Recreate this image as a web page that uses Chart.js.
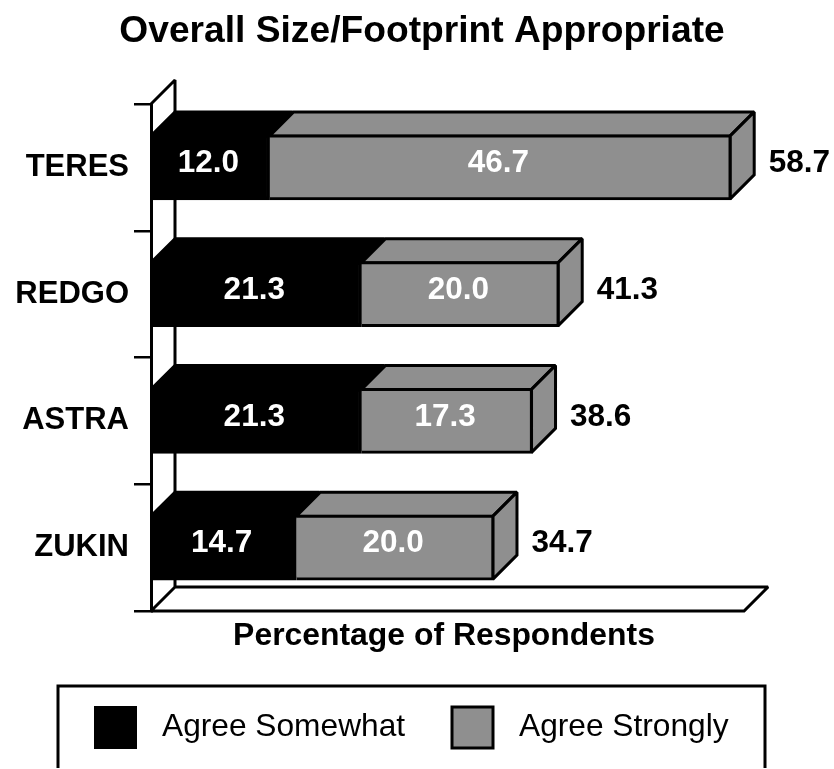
<!DOCTYPE html>
<html><head><meta charset="utf-8">
<style>html,body{margin:0;padding:0;background:#fff;overflow:hidden}canvas{display:block}</style>
<script src="https://cdn.jsdelivr.net/npm/chart.js@4"></script>
</head><body><canvas id="c" width="834" height="769"></canvas>
<script>
const categories = ["TERES","REDGO","ASTRA","ZUKIN"];
const agreeSomewhat = [12.0,21.3,21.3,14.7];
const agreeStrongly = [46.7,20.0,17.3,20.0];
const totals = ["58.7","41.3","38.6","34.7"];
const seriesNames = ["Agree Somewhat","Agree Strongly"];
const titleText = "Overall Size/Footprint Appropriate";
const axisTitle = "Percentage of Respondents";
const floorEnd = 60;
const BLACK="#000000", GREY="#8f8f8f", D=24, LW=3, FONT='"Liberation Sans"';

function poly(ctx,pts,fill,lw){
  ctx.beginPath();pts.forEach((p,i)=>i?ctx.lineTo(p[0],p[1]):ctx.moveTo(p[0],p[1]));ctx.closePath();
  if(fill){ctx.fillStyle=fill;ctx.fill();}
  ctx.lineWidth=lw;ctx.strokeStyle=BLACK;ctx.lineJoin='miter';ctx.miterLimit=2.5;ctx.stroke();
}
const frame3d={id:'frame3d',
  beforeDatasetsDraw(chart){
    const ctx=chart.ctx,a=chart.chartArea,r=chart.scales.x.getPixelForValue(floorEnd);ctx.save();
    ctx.lineWidth=LW;ctx.strokeStyle=BLACK;ctx.miterLimit=2.5;
    ctx.beginPath();
    ctx.moveTo(a.left,a.top);ctx.lineTo(a.left+D,a.top-D);ctx.lineTo(a.left+D,a.bottom-D);ctx.lineTo(r+D,a.bottom-D);
    ctx.lineTo(r,a.bottom);ctx.lineTo(a.left,a.bottom);ctx.lineTo(a.left+D,a.bottom-D);ctx.stroke();
    chart.data.datasets.forEach((ds,i)=>{
      chart.getDatasetMeta(i).data.forEach(bar=>{
        const p=bar.getProps(['x','y','base','height'],false),t=p.y-p.height/2+1,b=p.y+p.height/2-1,x=p.x-1;
        poly(ctx,[[p.base,t],[p.base+D,t-D],[x+D,t-D],[x,t]],ds.backgroundColor,LW);
        if(i===chart.data.datasets.length-1) poly(ctx,[[x,t],[x+D,t-D],[x+D,b-D],[x,b]],ds.backgroundColor,LW);
      });
    });
    ctx.restore();
  },
  afterDatasetsDraw(chart){
    const ctx=chart.ctx;ctx.save();
    ctx.font='bold 31.5px '+FONT;ctx.textBaseline='middle';
    chart.data.datasets.forEach((ds,i)=>{
      chart.getDatasetMeta(i).data.forEach((bar,j)=>{
        const p=bar.getProps(['x','y','base'],false);
        ctx.fillStyle='#ffffff';ctx.textAlign='center';
        ctx.fillText(ds.data[j].toFixed(1),(p.x+p.base)/2-2,p.y-4);
        if(i===1){ctx.fillStyle=BLACK;ctx.textAlign='left';ctx.fillText(totals[j],p.x+37.5,p.y-4);}
      });
    });
    ctx.restore();
  },
  afterDraw(chart){
    const ctx=chart.ctx;ctx.save();
    ctx.fillStyle=BLACK;ctx.font='bold 31.9px '+FONT;ctx.textAlign='center';ctx.textBaseline='middle';
    ctx.fillText(axisTitle,444,636);
    // legend
    ctx.lineWidth=LW;ctx.strokeStyle=BLACK;
    ctx.beginPath();ctx.moveTo(58,768);ctx.lineTo(58,686);ctx.lineTo(765,686);ctx.lineTo(765,768);ctx.stroke();
    ctx.fillStyle=BLACK;ctx.fillRect(94,706,43,43);
    ctx.fillStyle=GREY;ctx.fillRect(452,707,41,41);ctx.lineWidth=LW;ctx.strokeRect(452,707,41,41);
    ctx.fillStyle=BLACK;ctx.font='31.7px '+FONT;ctx.textAlign='left';
    ctx.fillText(seriesNames[0],162,727);ctx.fillText(seriesNames[1],519,727);
    ctx.restore();
  }
};
new Chart(document.getElementById('c'),{
  type:'bar',
  data:{labels:categories,datasets:[
    {label:seriesNames[0],data:agreeSomewhat,backgroundColor:BLACK,borderColor:BLACK,borderWidth:3,barThickness:65},
    {label:seriesNames[1],data:agreeStrongly,backgroundColor:GREY,borderColor:BLACK,borderWidth:3,barThickness:65}
  ]},
  options:{
    indexAxis:'y',responsive:false,animation:false,
    layout:{padding:{left:10,right:0,top:9,bottom:158}},
    plugins:{
      legend:{display:false},tooltip:{enabled:false},
      title:{display:true,text:titleText,color:BLACK,font:{family:FONT,size:37.2,weight:'bold',lineHeight:1.2},padding:{top:0,bottom:50.4}}
    },
    scales:{
      x:{stacked:true,min:0,max:69.1,ticks:{display:false},grid:{display:false},border:{display:false},
         afterFit(s){s.height=0;}},
      y:{stacked:true,
         ticks:{color:BLACK,font:{family:FONT,size:31,weight:'bold'},padding:5},
         grid:{offset:true,drawOnChartArea:false,color:BLACK,lineWidth:2.5,tickLength:17},
         border:{display:true,color:BLACK,width:3},
         afterFit(s){s.width=141;}}
    }
  },
  plugins:[frame3d]
});
</script></body></html>
